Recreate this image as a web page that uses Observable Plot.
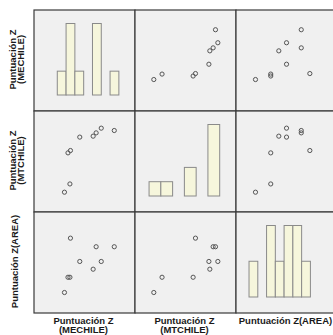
<!DOCTYPE html>
<html>
<head>
<meta charset="utf-8">
<script src="https://cdn.jsdelivr.net/npm/d3@7"></script>
<script src="https://cdn.jsdelivr.net/npm/@observablehq/plot@0.6"></script>
<style>
  html, body { margin: 0; padding: 0; background: #fff; }
  #wrap { position: relative; width: 333px; height: 335px; overflow: hidden; }
  #wrap svg { position: absolute; }
</style>
</head>
<body>
<div id="wrap"></div>
<script>
const MECHILE = [-1.12, -0.92, -0.81, -0.78, -0.25, 0.51, 0.68, 0.97, 1.71];
const MTCHILE = [-1.82, -0.15, -1.47, -0.05, 0.52, 0.56, 0.70, 0.90, 0.80];
const AREA    = [-1.66, -0.79, -0.79, 1.44, 0.11, -0.33, 0.95, 0.11, 0.95];

const variables = ["MECHILE", "MTCHILE", "AREA"];
const domains = {MECHILE: [-2.88, 2.86], MTCHILE: [-2.64, 1.65], AREA: [-2.80, 2.96]};
const labels = [["Puntuación Z", "(MECHILE)"], ["Puntuación Z", "(MTCHILE)"], ["Puntuación Z(AREA)"]];
const binThresholds = [-2, -1.5, -1, -0.5, 0, 0.5, 1, 1.5, 2];

const rows = MECHILE.map((d, i) => ({MECHILE: d, MTCHILE: MTCHILE[i], AREA: AREA[i]}));

const wrap = document.getElementById("wrap");
const X0 = 33, Y0 = 9, STEP = 101, SIZE = 102;

variables.forEach((rv, r) => {
  variables.forEach((cv, c) => {
    const frame = Plot.frame({fill: "#f0f0f0", stroke: "#3a3a3a", strokeWidth: 1.2, inset: 0.5});
    let plot;
    if (r === c) {
      const counts = d3.max(d3.bin().thresholds(binThresholds)(rows.map(d => d[cv])), b => b.length);
      plot = Plot.plot({
        width: SIZE, height: SIZE, margin: 0,
        x: {domain: domains[cv], range: [0, STEP], axis: null},
        y: {domain: [0, counts], range: [86, 14.5], axis: null},
        marks: [
          frame,
          Plot.rectY(rows, Plot.binX({y: "count", filter: d => d.length > 0}, {x: cv, thresholds: binThresholds, fill: "#f6f6dc", stroke: "#8a8a8a", strokeWidth: 1, inset: 0}))
        ]
      });
    } else {
      plot = Plot.plot({
        width: SIZE, height: SIZE, margin: 0,
        x: {domain: domains[cv], range: [0, STEP], axis: null},
        y: {domain: domains[rv], range: [STEP, 0], axis: null},
        marks: [
          frame,
          Plot.dot(rows, {x: cv, y: rv, r: 2.1, fill: "none", stroke: "#555", strokeWidth: 1})
        ]
      });
    }
    plot.style.left = (X0 + c * STEP) + "px";
    plot.style.top = (Y0 + r * STEP) + "px";
    plot.style.overflow = "visible";
    wrap.appendChild(plot);
  });
});

// Labels overlay
const svg = d3.select(wrap).append("svg")
  .attr("width", 333).attr("height", 335)
  .style("left", "0px").style("top", "0px")
  .attr("font-family", "'Liberation Sans', Arial, sans-serif")
  .attr("font-weight", "bold").attr("font-size", "9.5px").attr("fill", "#1a1a1a");

labels.forEach((lines, i) => {
  const cx = X0 + i * STEP + STEP / 2;
  const cy = Y0 + i * STEP + STEP / 2;
  // bottom column label
  lines.forEach((t, j) => {
    svg.append("text").attr("x", cx).attr("y", 323.8 + j * 9.5)
      .attr("text-anchor", "middle").text(t);
  });
  // left row label (rotated)
  const bx = lines.length === 1 ? [17.5] : [15.5, 23.5];
  lines.forEach((t, j) => {
    svg.append("text")
      .attr("transform", `translate(${bx[j]},${cy}) rotate(-90)`)
      .attr("text-anchor", "middle").text(t);
  });
});
</script>
</body>
</html>
